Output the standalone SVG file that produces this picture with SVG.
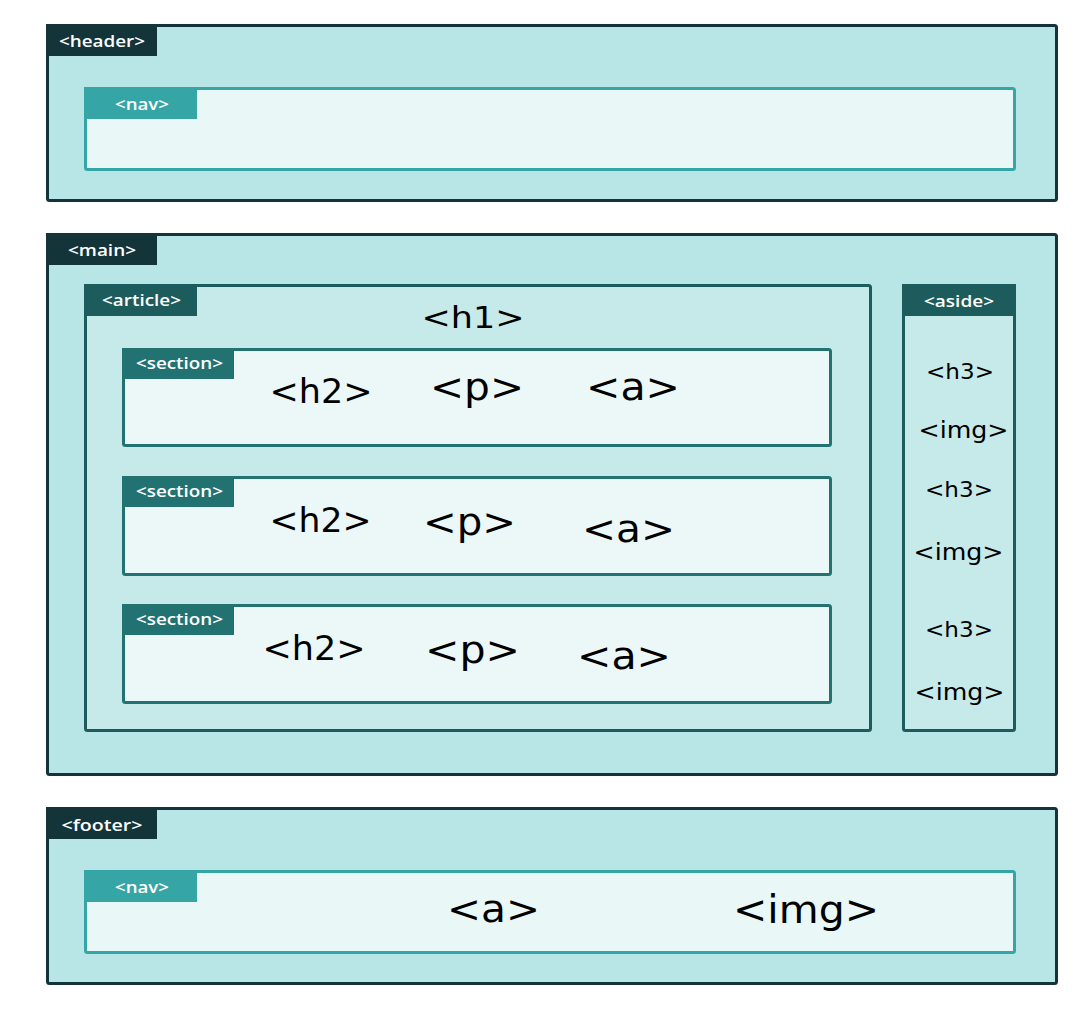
<svg xmlns="http://www.w3.org/2000/svg" width="1089" height="1014" viewBox="0 0 1089 1014">
<style>
.outer{fill:#b8e5e5;stroke:#13343a;stroke-width:3}
.outerTab{fill:#13353a}
.nav{fill:#e9f7f7;stroke:#35a6a5;stroke-width:3}
.navTab{fill:#35a6a5}
.art{fill:#c6eaea;stroke:#1c5c5c;stroke-width:3}
.artTab{fill:#1c5c5c}
.sec{fill:#ecf8f8;stroke:#227272;stroke-width:3}
.secTab{fill:#227272}
.lbl{font-family:"Open Sans","Liberation Sans",sans-serif;font-weight:600;font-size:16px;fill:#ffffff;text-anchor:middle}
.t{font-family:"DejaVu Sans",sans-serif;fill:#000000;text-anchor:middle}
</style>
<rect width="1089" height="1014" fill="#ffffff"/>
<g id="header">
<rect class="outer" x="47.5" y="25.5" width="1009" height="175" rx="2"/>
<rect class="outerTab" x="46" y="24" width="111" height="32"/>
<text class="lbl" x="102" y="47" textLength="86" lengthAdjust="spacingAndGlyphs">&lt;header&gt;</text>
</g>
<g id="header-nav">
<rect class="nav" x="85.5" y="88.5" width="929" height="81" rx="2"/>
<rect class="navTab" x="84" y="87" width="113" height="32"/>
<text class="lbl" x="142" y="110" textLength="54" lengthAdjust="spacingAndGlyphs">&lt;nav&gt;</text>
</g>
<g id="main">
<rect class="outer" x="47.5" y="234.5" width="1009" height="540" rx="2"/>
<rect class="outerTab" x="46" y="233" width="111" height="32"/>
<text class="lbl" x="102" y="256" textLength="68" lengthAdjust="spacingAndGlyphs">&lt;main&gt;</text>
</g>
<g id="article">
<rect class="art" x="85.5" y="285.5" width="785" height="445" rx="2"/>
<rect class="artTab" x="84" y="284" width="113" height="32"/>
<text class="lbl" x="141.5" y="306" textLength="79" lengthAdjust="spacingAndGlyphs">&lt;article&gt;</text>
<text class="t" x="473" y="328" font-size="30" textLength="103" lengthAdjust="spacingAndGlyphs">&lt;h1&gt;</text>
</g>
<g id="section1">
<rect class="sec" x="123.5" y="349.5" width="707" height="96" rx="2"/>
<rect class="secTab" x="122" y="348" width="112" height="31"/>
<text class="lbl" x="179.5" y="369" textLength="87" lengthAdjust="spacingAndGlyphs">&lt;section&gt;</text>
<text class="t" x="321" y="403" font-size="33" textLength="103" lengthAdjust="spacingAndGlyphs">&lt;h2&gt;</text>
<text class="t" x="477" y="400" font-size="37" textLength="94" lengthAdjust="spacingAndGlyphs">&lt;p&gt;</text>
<text class="t" x="633" y="400" font-size="37" textLength="94" lengthAdjust="spacingAndGlyphs">&lt;a&gt;</text>
</g>
<g id="section2">
<rect class="sec" x="123.5" y="477.5" width="707" height="97" rx="2"/>
<rect class="secTab" x="122" y="476" width="112" height="31"/>
<text class="lbl" x="179.5" y="497" textLength="87" lengthAdjust="spacingAndGlyphs">&lt;section&gt;</text>
<text class="t" x="320.5" y="532" font-size="33" textLength="102" lengthAdjust="spacingAndGlyphs">&lt;h2&gt;</text>
<text class="t" x="469.5" y="535" font-size="37" textLength="93" lengthAdjust="spacingAndGlyphs">&lt;p&gt;</text>
<text class="t" x="628.5" y="542" font-size="37" textLength="93" lengthAdjust="spacingAndGlyphs">&lt;a&gt;</text>
</g>
<g id="section3">
<rect class="sec" x="123.5" y="605.5" width="707" height="97" rx="2"/>
<rect class="secTab" x="122" y="604" width="112" height="31"/>
<text class="lbl" x="179.5" y="625" textLength="87" lengthAdjust="spacingAndGlyphs">&lt;section&gt;</text>
<text class="t" x="314" y="660" font-size="33" textLength="103" lengthAdjust="spacingAndGlyphs">&lt;h2&gt;</text>
<text class="t" x="472.5" y="663" font-size="37" textLength="95" lengthAdjust="spacingAndGlyphs">&lt;p&gt;</text>
<text class="t" x="624" y="669" font-size="37" textLength="94" lengthAdjust="spacingAndGlyphs">&lt;a&gt;</text>
</g>
<g id="aside">
<rect class="art" x="903.5" y="285.5" width="111" height="445" rx="2"/>
<rect class="artTab" x="902" y="284" width="114" height="32"/>
<text class="lbl" x="959" y="307" textLength="70" lengthAdjust="spacingAndGlyphs">&lt;aside&gt;</text>
<text class="t" x="960" y="379" font-size="21" textLength="68" lengthAdjust="spacingAndGlyphs">&lt;h3&gt;</text>
<text class="t" x="963.5" y="438" font-size="23" textLength="90" lengthAdjust="spacingAndGlyphs">&lt;img&gt;</text>
<text class="t" x="959" y="497" font-size="21" textLength="68" lengthAdjust="spacingAndGlyphs">&lt;h3&gt;</text>
<text class="t" x="958.5" y="560" font-size="23" textLength="90" lengthAdjust="spacingAndGlyphs">&lt;img&gt;</text>
<text class="t" x="959" y="637" font-size="21" textLength="68" lengthAdjust="spacingAndGlyphs">&lt;h3&gt;</text>
<text class="t" x="959.5" y="700" font-size="23" textLength="90" lengthAdjust="spacingAndGlyphs">&lt;img&gt;</text>
</g>
<g id="footer">
<rect class="outer" x="47.5" y="808.5" width="1009" height="175" rx="2"/>
<rect class="outerTab" x="46" y="807" width="111" height="32"/>
<text class="lbl" x="102" y="831" textLength="81" lengthAdjust="spacingAndGlyphs">&lt;footer&gt;</text>
</g>
<g id="footer-nav">
<rect class="nav" x="85.5" y="871.5" width="929" height="81" rx="2"/>
<rect class="navTab" x="84" y="870" width="113" height="32"/>
<text class="lbl" x="142" y="893" textLength="54" lengthAdjust="spacingAndGlyphs">&lt;nav&gt;</text>
<text class="t" x="493.5" y="922" font-size="38" textLength="93" lengthAdjust="spacingAndGlyphs">&lt;a&gt;</text>
<text class="t" x="806" y="923" font-size="39" textLength="146" lengthAdjust="spacingAndGlyphs">&lt;img&gt;</text>
</g>
<g id="connectors"></g>
</svg>
